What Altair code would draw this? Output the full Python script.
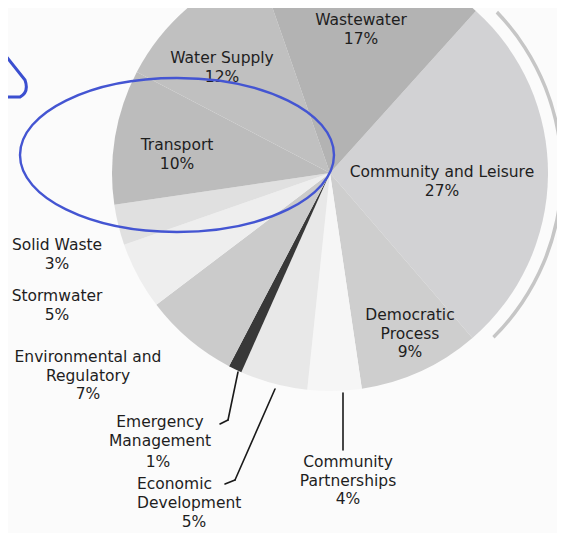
import math
import altair as alt
import pandas as pd

# ---------------- data ----------------
categories = [
    "Community and Leisure", "Democratic Process", "Community Partnerships",
    "Economic Development", "Emergency Management", "Environmental and Regulatory",
    "Stormwater", "Solid Waste", "Transport", "Water Supply", "Wastewater",
]
shares = [27, 9, 4, 5, 1, 7, 5, 3, 10, 12, 17]

# ---------------- styling / layout ----------------
fills = ["#d2d2d4", "#cecece", "#f6f6f6", "#e8e8e8", "#383838", "#cbcbcb",
         "#eeeeee", "#e0e0e0", "#bcbcbc", "#c0c0c0", "#b3b3b3"]
line_breaks = {
    "Democratic Process": ["Democratic", "Process"],
    "Community Partnerships": ["Community", "Partnerships"],
    "Economic Development": ["Economic", "Development"],
    "Emergency Management": ["Emergency", "Management"],
    "Environmental and Regulatory": ["Environmental and", "Regulatory"],
}
# label block anchors: (x, centre-y of first line, align) in page pixels
label_anchor = {
    "Community and Leisure": (442, 172, "center"),
    "Democratic Process": (410, 315, "center"),
    "Community Partnerships": (348, 462, "center"),
    "Economic Development": (137, 484, "left"),
    "Emergency Management": (160, 422, "center"),
    "Environmental and Regulatory": (88, 357, "center"),
    "Stormwater": (57, 296, "center"),
    "Solid Waste": (57, 245, "center"),
    "Transport": (177, 145, "center"),
    "Water Supply": (222, 58, "center"),
    "Wastewater": (361, 20, "center"),
}
# percentages placed apart from their name block
pct_apart = {
    "Economic Development": (194, 522),
    "Emergency Management": (158, 462),
}
# leader lines (page pixels)
leaders = [
    ((238, 372), (228, 420)), ((228, 420), (220, 424)),
    ((275, 389), (235, 480)), ((235, 480), (225, 484)),
    ((343, 393), (343, 450)),
]
OFF = 8                        # page margin
CX, CY = 330 - OFF, 173 - OFF  # pie centre in view coordinates
R = 218
START = math.radians(42)
FONT = "DejaVu Sans"
FS = 15.5
LH = 18.5
TOP_SHIFT = 7                  # centre of first line -> top of text box

pie_df = pd.DataFrame({
    "category": categories,
    "share": shares,
    "order": list(range(len(categories))),
    "fill": fills,
})

theta = alt.Theta("share:Q", stack=True,
                  scale=alt.Scale(range=[START, START + 2 * math.pi]))

pie = alt.Chart(pie_df).mark_arc(outerRadius=R).encode(
    theta=theta,
    order=alt.Order("order:Q"),
    fill=alt.Fill("fill:N", scale=None),
    x=alt.value(CX), y=alt.value(CY),
)

highlight = alt.Chart(pie_df).mark_arc(innerRadius=230, outerRadius=233.5, padAngle=0.1).encode(
    theta=theta,
    order=alt.Order("order:Q"),
    fill=alt.condition(alt.datum.category == "Community and Leisure",
                       alt.value("#c6c6c6"), alt.value("transparent")),
    x=alt.value(CX), y=alt.value(CY),
)

rows = []
for cat, val in zip(categories, shares):
    names = line_breaks.get(cat, [cat])
    px, py, al = label_anchor[cat]
    pct = f"{val}%"
    if cat in pct_apart:
        rows.append({"text": "\n".join(names), "x": px - OFF, "y": py - OFF - TOP_SHIFT, "align": al})
        qx, qy = pct_apart[cat]
        rows.append({"text": pct, "x": qx - OFF, "y": qy - OFF - TOP_SHIFT, "align": "center"})
    else:
        rows.append({"text": "\n".join(names + [pct]), "x": px - OFF, "y": py - OFF - TOP_SHIFT, "align": al})
text_df = pd.DataFrame(rows)


def label_layer(align):
    return alt.Chart(text_df).transform_filter(alt.datum.align == align).mark_text(
        font=FONT, fontSize=FS, color="#1e1e1e", align=align, baseline="top",
        lineBreak="\n", lineHeight=LH,
    ).encode(
        x=alt.X("x:Q", scale=None, axis=None),
        y=alt.Y("y:Q", scale=None, axis=None),
        text="text:N",
    )


lead_df = pd.DataFrame([
    {"x": a[0] - OFF, "y": a[1] - OFF, "x2": b[0] - OFF, "y2": b[1] - OFF}
    for a, b in leaders
])
rules = alt.Chart(lead_df).mark_rule(color="#1a1a1a", strokeWidth=1.6, strokeCap="round").encode(
    x=alt.X("x:Q", scale=None, axis=None),
    y=alt.Y("y:Q", scale=None, axis=None),
    x2="x2:Q", y2="y2:Q",
)

# hand-drawn blue annotations
ry = 0.49
k = 0.5523
ellipse_path = (
    f"M -1 0 C -1 {-k*ry} {-k} {-ry} 0 {-ry} "
    f"C {k} {-ry} 1 {-k*ry} 1 0 "
    f"C 1 {k*ry} {k} {ry} 0 {ry} "
    f"C {-k} {ry} -1 {k*ry} -1 0 Z"
)
ell = alt.Chart(pd.DataFrame({"x": [177 - OFF], "y": [155 - OFF]})).mark_point(
    shape=ellipse_path, size=314 ** 2, filled=False, color="#4455d2",
    strokeWidth=2.4, opacity=1,
).encode(x=alt.X("x:Q", scale=None, axis=None), y=alt.Y("y:Q", scale=None, axis=None))

tick_path = "M -0.5 -0.83 L 0.4 0.3 C 0.47 0.5 0.5 0.73 0.23 0.87 L -0.6 0.87"
tick = alt.Chart(pd.DataFrame({"x": [5], "y": [63]})).mark_point(
    shape=tick_path, size=3600, filled=False, color="#3b4fd0",
    strokeWidth=3, opacity=1,
).encode(x=alt.X("x:Q", scale=None, axis=None), y=alt.Y("y:Q", scale=None, axis=None))

chart = alt.layer(
    pie, highlight, rules, label_layer("center"), label_layer("left"), ell, tick
).properties(
    width=549, height=525, autosize="none", padding=0, background="#fbfbfb",
).configure_view(stroke=None)

chart.save("out.html", embed_options={"renderer": "svg", "actions": False})
